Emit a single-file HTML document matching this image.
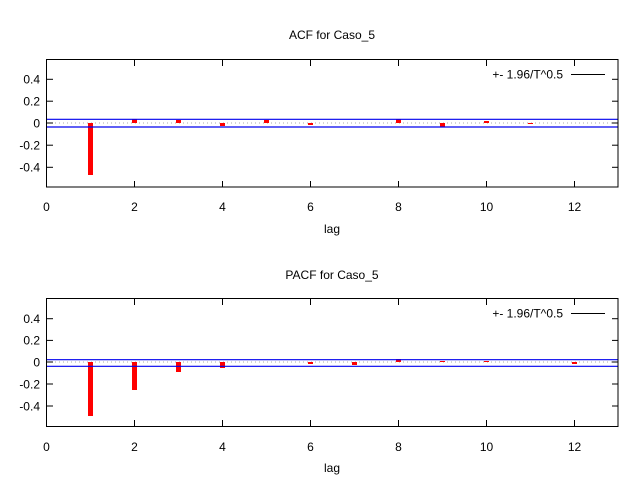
<!DOCTYPE html>
<html><head><style>body{margin:0;background:#fff}svg{display:block}text{font-family:"Liberation Sans",sans-serif;font-size:12px;fill:#000}</style></head><body>
<svg width="640" height="480" xmlns="http://www.w3.org/2000/svg">
<g id="p1">
<text x="332" y="39" text-anchor="middle">ACF for Caso_5</text>
<g stroke="#aaa" stroke-dasharray="1,3"><line x1="47" y1="123" x2="618" y2="123"/></g>
<g fill="red">
<rect x="88" y="123" width="5" height="52"/>
<rect x="132" y="119" width="5" height="4"/>
<rect x="176" y="120" width="5" height="3"/>
<rect x="220" y="123" width="5" height="3"/>
<rect x="264" y="120" width="5" height="3"/>
<rect x="308" y="123" width="5" height="2"/>
<rect x="396" y="119" width="5" height="4"/>
<rect x="440" y="123" width="5" height="4"/>
<rect x="484" y="121" width="5" height="2"/>
<rect x="528" y="123" width="5" height="1"/>
</g>
<g stroke="#0000ee" stroke-width="1.2"><line x1="47" y1="119.3" x2="618" y2="119.3"/><line x1="47" y1="127" x2="618" y2="127"/></g>
<rect x="46.5" y="59.5" width="571.5" height="127.5" fill="none" stroke="#000"/>
<g stroke="#000">
<line x1="47" y1="79.3" x2="53" y2="79.3"/><line x1="47" y1="101.2" x2="53" y2="101.2"/><line x1="47" y1="123" x2="53" y2="123"/><line x1="47" y1="145.2" x2="53" y2="145.2"/><line x1="47" y1="167.3" x2="53" y2="167.3"/>
<line x1="612" y1="79.3" x2="618" y2="79.3"/><line x1="612" y1="101.2" x2="618" y2="101.2"/><line x1="612" y1="123" x2="618" y2="123"/><line x1="612" y1="145.2" x2="618" y2="145.2"/><line x1="612" y1="167.3" x2="618" y2="167.3"/>
<line x1="134.5" y1="60" x2="134.5" y2="66"/><line x1="222.5" y1="60" x2="222.5" y2="66"/><line x1="310.5" y1="60" x2="310.5" y2="66"/><line x1="398.5" y1="60" x2="398.5" y2="66"/><line x1="486.5" y1="60" x2="486.5" y2="66"/><line x1="574.5" y1="60" x2="574.5" y2="66"/>
<line x1="134.5" y1="181" x2="134.5" y2="187"/><line x1="222.5" y1="181" x2="222.5" y2="187"/><line x1="310.5" y1="181" x2="310.5" y2="187"/><line x1="398.5" y1="181" x2="398.5" y2="187"/><line x1="486.5" y1="181" x2="486.5" y2="187"/><line x1="574.5" y1="181" x2="574.5" y2="187"/>
<line x1="571" y1="74.5" x2="605" y2="74.5"/>
</g>
<g text-anchor="end"><text x="40" y="83.5">0.4</text><text x="40" y="105.5">0.2</text><text x="40" y="127.5">0</text><text x="40" y="149.5">-0.2</text><text x="40" y="171.5">-0.4</text></g>
<text x="563" y="78.5" text-anchor="end">+- 1.96/T^0.5</text>
<g text-anchor="middle"><text x="46.5" y="211">0</text><text x="134.5" y="211">2</text><text x="222.5" y="211">4</text><text x="310.5" y="211">6</text><text x="398.5" y="211">8</text><text x="486.5" y="211">10</text><text x="574.5" y="211">12</text><text x="332" y="233">lag</text></g>
</g>
<g id="p2">
<text x="332" y="279" text-anchor="middle">PACF for Caso_5</text>
<line x1="47" y1="362" x2="618" y2="362" stroke="#aaa" stroke-dasharray="1,3"/>
<g fill="red">
<rect x="88" y="362" width="5" height="54"/>
<rect x="132" y="362" width="5" height="28"/>
<rect x="176" y="362" width="5" height="10"/>
<rect x="220" y="362" width="5" height="6"/>
<rect x="308" y="362" width="5" height="2"/>
<rect x="352" y="362" width="5" height="3"/>
<rect x="396" y="359" width="5" height="3"/>
<rect x="440" y="361" width="5" height="1"/>
<rect x="484" y="361" width="5" height="1"/>
<rect x="572" y="362" width="5" height="2"/>
</g>
<g stroke="#0000ee" stroke-width="1.2"><line x1="47" y1="359.7" x2="618" y2="359.7"/><line x1="47" y1="366.3" x2="618" y2="366.3"/></g>
<rect x="46.5" y="298.5" width="571.5" height="128" fill="none" stroke="#000"/>
<g stroke="#000">
<line x1="47" y1="318.7" x2="53" y2="318.7"/><line x1="47" y1="340.4" x2="53" y2="340.4"/><line x1="47" y1="362" x2="53" y2="362"/><line x1="47" y1="384" x2="53" y2="384"/><line x1="47" y1="406" x2="53" y2="406"/>
<line x1="612" y1="318.7" x2="618" y2="318.7"/><line x1="612" y1="340.4" x2="618" y2="340.4"/><line x1="612" y1="362" x2="618" y2="362"/><line x1="612" y1="384" x2="618" y2="384"/><line x1="612" y1="406" x2="618" y2="406"/>
<line x1="134.5" y1="299" x2="134.5" y2="305"/><line x1="222.5" y1="299" x2="222.5" y2="305"/><line x1="310.5" y1="299" x2="310.5" y2="305"/><line x1="398.5" y1="299" x2="398.5" y2="305"/><line x1="486.5" y1="299" x2="486.5" y2="305"/><line x1="574.5" y1="299" x2="574.5" y2="305"/>
<line x1="134.5" y1="420" x2="134.5" y2="426"/><line x1="222.5" y1="420" x2="222.5" y2="426"/><line x1="310.5" y1="420" x2="310.5" y2="426"/><line x1="398.5" y1="420" x2="398.5" y2="426"/><line x1="486.5" y1="420" x2="486.5" y2="426"/><line x1="574.5" y1="420" x2="574.5" y2="426"/>
<line x1="571" y1="313.5" x2="605" y2="313.5"/>
</g>
<g text-anchor="end"><text x="40" y="323">0.4</text><text x="40" y="344.5">0.2</text><text x="40" y="366.5">0</text><text x="40" y="388.5">-0.2</text><text x="40" y="410.5">-0.4</text></g>
<text x="563" y="317.5" text-anchor="end">+- 1.96/T^0.5</text>
<g text-anchor="middle"><text x="46.5" y="451">0</text><text x="134.5" y="451">2</text><text x="222.5" y="451">4</text><text x="310.5" y="451">6</text><text x="398.5" y="451">8</text><text x="486.5" y="451">10</text><text x="574.5" y="451">12</text><text x="332" y="472">lag</text></g>
</g>
</svg>
</body></html>
